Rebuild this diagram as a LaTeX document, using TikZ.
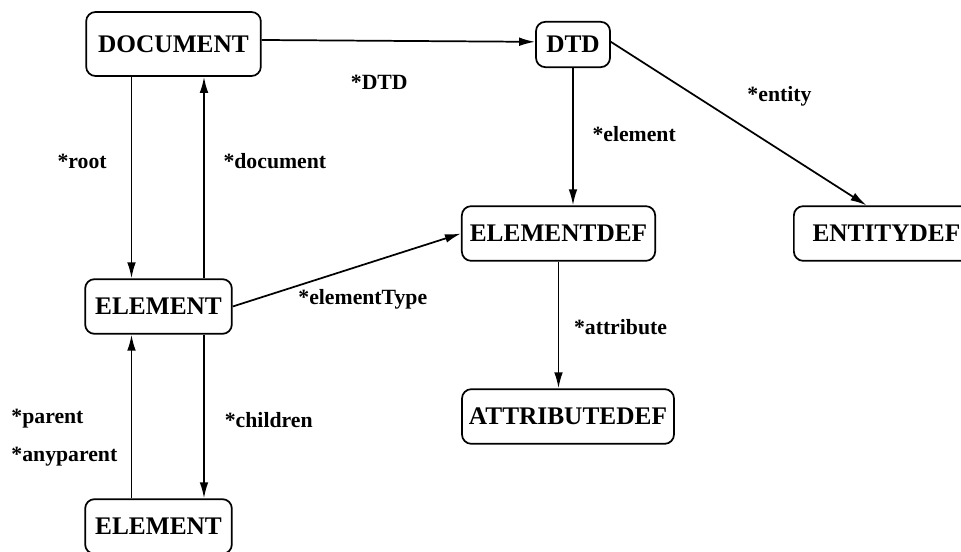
\documentclass[tikz,border=0pt]{standalone}
\usepackage{fontspec}
\setmainfont{Liberation Serif}
\usetikzlibrary{arrows.meta}
\tikzset{
  Kasten/.style={draw, rounded corners=7pt, line width=1.3pt, inner sep=2pt,
    minimum height=41pt, font=\fontsize{19}{23}\selectfont\bfseries}, % Klassen
  Pfeil/.style={line width=1.3pt, ->}, % Zeiger
  Marke/.style={inner sep=0pt, font=\fontsize{16.3}{20}\selectfont\bfseries} % Zeigernamen
}
\begin{document}
\begin{tikzpicture}[x=0.75pt, y=-0.75pt,
>={Latex[length=12pt,width=6.5pt]} % Voreinstellung fuer Pfeilspitzen
]
\useasboundingbox (0,0) rectangle (961,552);

%Klassen
\node[Kasten, minimum width=131pt, minimum height=48pt, text depth=-3pt] (doc) at (173.5,44) {DOCUMENT};
\node[Kasten, minimum width=55.5pt, minimum height=34pt] (dtd) at (573,44.5) {DTD};
\node[Kasten, minimum width=110pt] (elem) at (158.5,306.5) {ELEMENT};
\node[Kasten, minimum width=110pt] (kind) at (158.5,526.5) {ELEMENT};
\node[Kasten, minimum width=145pt] (edef) at (558.5,233.5) {ELEMENTDEF};
\node[Kasten, minimum width=159pt] (adef) at (568,416.5) {ATTRIBUTEDEF};
\node[Kasten, inner xsep=14pt, anchor=west] (ent) at (793,233.5) {ENTITYDEF};

%Hilfslinien
\coordinate (links) at (131.5,0);
\coordinate (rechts) at (204,0);

%Zeiger
\draw[Pfeil] ([yshift=3pt]doc.east) -- node[Marke, pos=.43, yshift=-31pt]{*DTD} ([yshift=2pt]dtd.west);
\draw[Pfeil] (doc.south -| links) -- node[Marke, pos=.42, left=18pt]{*root} (elem.north -| links);
\draw[Pfeil] (elem.north -| rechts) -- node[Marke, pos=.58, right=14pt]{*document} (doc.south -| rechts);
\draw[Pfeil] (elem.east) -- node[Marke, pos=.57, yshift=-26pt]{*elementType} (edef.west);
\draw[Pfeil] (dtd.south) -- node[Marke, pos=.48, right=14pt]{*element} (edef.north -| dtd.south);
\draw[Pfeil] ([yshift=2pt]dtd.east) -- node[Marke, pos=.66, yshift=40pt]{*entity} ([xshift=55pt]ent.north west);
\draw[Pfeil] (edef.south) -- node[Marke, pos=.52, right=11pt]{*attribute} (adef.north -| edef.south);
\draw[Pfeil] (elem.south -| rechts) -- node[Marke, pos=.52, right=15pt]{*children} (kind.north -| rechts);
\draw[Pfeil] (kind.north -| links) -- node[Marke, pos=.37, left=10pt, align=left,
  font=\fontsize{16.3}{28.5}\selectfont\bfseries]{*parent\\*anyparent} (elem.south -| links);

\end{tikzpicture}
\end{document}
